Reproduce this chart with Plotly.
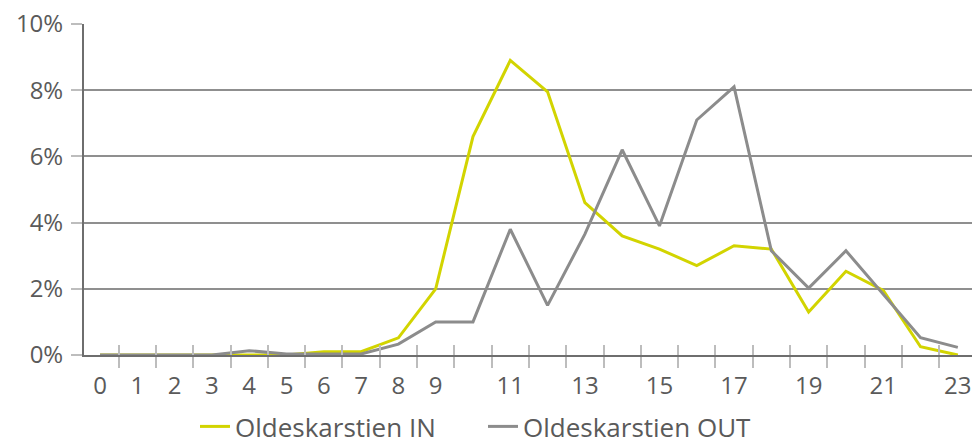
import plotly.graph_objects as go

hours = list(range(24))
in_values = [0.0, 0.0, 0.0, 0.0, 0.0, 0.0, 0.1, 0.1, 0.52, 2.0, 6.6, 8.9,
             7.95, 4.6, 3.6, 3.2, 2.7, 3.3, 3.2, 1.3, 2.53, 1.95, 0.25, 0.0]
out_values = [0.0, 0.0, 0.0, 0.0, 0.13, 0.03, 0.03, 0.03, 0.33, 1.0, 1.0, 3.8,
              1.5, 3.65, 6.2, 3.9, 7.1, 8.1, 3.15, 2.02, 3.15, 1.85, 0.52, 0.23]
series_names = ["Oldeskarstien IN", "Oldeskarstien OUT"]
x_tick_vals = [0, 1, 2, 3, 4, 5, 6, 7, 8, 9, 11, 13, 15, 17, 19, 21, 23]
y_tick_vals = [0, 2, 4, 6, 8, 10]
y_tick_text = ["0%", "2%", "4%", "6%", "8%", "10%"]
boundaries = [h - 0.5 for h in hours] + [23.5]

FONT = "Open Sans"
TEXT = "#5a5a5a"
TICK_SIZE = 24
LEG_SIZE = 26

fig = go.Figure()
fig.add_trace(go.Scatter(x=hours, y=in_values, name=series_names[0], mode="lines",
                         line=dict(color="#d2d400", width=3)))
fig.add_trace(go.Scatter(x=hours, y=out_values, name=series_names[1], mode="lines",
                         line=dict(color="#8c8c8c", width=3)))
fig.add_trace(go.Scatter(x=hours, y=[None] * len(hours), xaxis="x2", showlegend=False,
                         hoverinfo="skip", mode="lines"))

xr = [-0.43, 23.38]
fig.update_layout(
    width=972, height=448,
    margin=dict(l=84, r=0, t=24, b=93),
    paper_bgcolor="white", plot_bgcolor="white",
    font=dict(family=FONT, size=TICK_SIZE, color=TEXT),
    showlegend=True,
    legend=dict(orientation="h", xref="container", yref="container",
                x=0.2006, xanchor="left", y=0.048, yanchor="middle",
                font=dict(family=FONT, size=LEG_SIZE, color=TEXT),
                entrywidth=243, entrywidthmode="pixels",
                traceorder="normal"),
    xaxis=dict(range=xr, tickmode="array", tickvals=x_tick_vals,
               ticktext=[str(v) for v in x_tick_vals], ticks="",
               automargin=False, ticklabelstandoff=8,
               showgrid=False, zeroline=False,
               showline=True, linecolor="#6e6e6e", linewidth=2,
               tickfont=dict(family=FONT, size=TICK_SIZE, color=TEXT),
               minor=dict(tickmode="array", tickvals=boundaries, ticks="outside",
                          ticklen=11, tickcolor="#bdbdbd", tickwidth=1.5,
                          showgrid=False)),
    xaxis2=dict(range=xr, overlaying="x", anchor="y", side="bottom",
                tickmode="array", tickvals=boundaries, ticks="inside",
                ticklen=10, tickcolor="#bdbdbd", tickwidth=1.5,
                showticklabels=False, showgrid=False, zeroline=False,
                showline=False, automargin=False),
    yaxis=dict(range=[0, 10], tickmode="array", tickvals=y_tick_vals,
               ticktext=y_tick_text, ticks="outside", ticklen=11,
               tickcolor="#bdbdbd", tickwidth=1.5, automargin=False,
               ticklabelstandoff=3,
               showgrid=True, gridcolor="#8f8f8f", gridwidth=1.5,
               zeroline=False, showline=True, linecolor="#6e6e6e", linewidth=2,
               tickfont=dict(family=FONT, size=TICK_SIZE, color=TEXT)),
)

fig.write_html("out.html", config={"displayModeBar": False},
               post_script="document.body.style.margin='0';document.body.style.padding='0';")
